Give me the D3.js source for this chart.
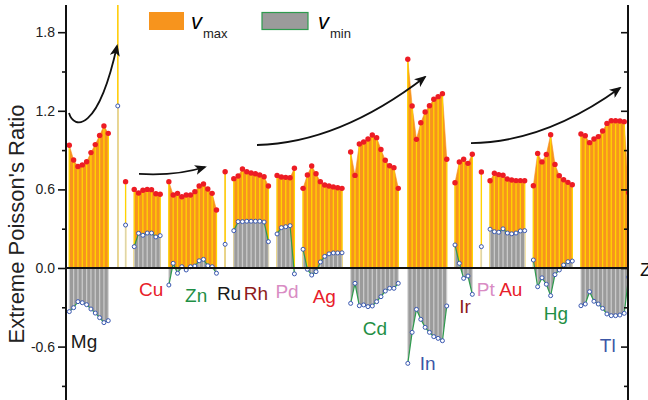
<!DOCTYPE html>
<html>
<head>
<meta charset="utf-8">
<script src="https://cdn.jsdelivr.net/npm/d3@7/dist/d3.min.js"></script>
<style>
  body { margin: 0; background: #fff; }
  text { font-family: "Liberation Sans", Arial, Helvetica, sans-serif; }
</style>
</head>
<body>
<div id="chart"></div>
<script>
// one entry per block of compounds, left to right ("" = unlabelled single compound)
var groupNames = ["Mg", "", "", "Cu", "Zn", "Ru", "Rh", "Pd", "Ag", "Cd", "In", "Ir", "Pt", "Au", "Hg", "Tl"];
// x position (compound index) of the first point of each block
var groupStart = [0, 11.2, 13, 15, 23, 36, 38, 48, 54, 65, 78.2, 89.1, 95.2, 97.2, 107.2, 118.2];

var vMax = [
  [0.937, 0.824, 0.775, 0.787, 0.811, 0.881, 0.942, 1.012, 1.084, 1.028],
  [2.3],
  [0.659],
  [0.600, 0.572, 0.593, 0.600, 0.598, 0.567, 0.563],
  [0.659, 0.557, 0.570, 0.544, 0.557, 0.557, 0.583, 0.626, 0.641, 0.603, 0.570, 0.443],
  [0.735],
  [0.682, 0.702, 0.756, 0.735, 0.725, 0.720, 0.710, 0.697, 0.626],
  [0.707, 0.695, 0.692, 0.689, 0.761],
  [0.608, 0.710, 0.779, 0.720, 0.659, 0.634, 0.626, 0.619, 0.613, 0.608],
  [0.885, 0.707, 0.947, 0.962, 0.985, 1.015, 0.995, 0.905, 0.822, 0.780, 0.766, 0.608],
  [1.593, 1.237, 0.982, 1.109, 1.191, 1.239, 1.288, 1.308, 1.331, 0.830],
  [0.651, 0.809, 0.830, 0.799, 0.868],
  [0.733],
  [0.666, 0.723, 0.713, 0.708, 0.679, 0.672, 0.667, 0.667, 0.666],
  [0.628, 0.875, 0.810, 0.866, 1.017, 0.791, 0.705, 0.674, 0.654, 0.636],
  [1.023, 1.010, 0.957, 0.985, 1.003, 1.046, 1.104, 1.124, 1.124, 1.122, 1.117, 0.575]
];

var vMin = [
  [-0.333, -0.303, -0.257, -0.265, -0.280, -0.313, -0.344, -0.379, -0.417, -0.402],
  [1.237],
  [0.328],
  [0.163, 0.265, 0.250, 0.267, 0.267, 0.237, 0.247],
  [-0.130, 0.036, -0.040, 0.010, -0.015, 0.010, 0.015, 0.055, 0.066, 0.017, 0.010, -0.040],
  [0.181],
  [0.285, 0.354, 0.354, 0.357, 0.357, 0.357, 0.357, 0.351, 0.201],
  [0.260, 0.308, 0.315, 0.323, -0.045],
  [0.143, -0.010, -0.054, -0.028, 0.046, 0.089, 0.108, 0.115, 0.115, 0.116],
  [-0.270, -0.117, -0.288, -0.282, -0.295, -0.290, -0.257, -0.219, -0.176, -0.155, -0.155, -0.117],
  [-0.728, -0.491, -0.316, -0.392, -0.453, -0.491, -0.524, -0.537, -0.555, -0.290],
  [0.176, 0.036, -0.079, -0.061, -0.201],
  [0.163],
  [0.296, 0.277, 0.273, 0.299, 0.267, 0.261, 0.267, 0.283, 0.285],
  [0.061, -0.143, -0.075, -0.124, -0.211, -0.051, -0.015, 0.023, 0.048, 0.053],
  [-0.288, -0.275, -0.181, -0.254, -0.275, -0.308, -0.351, -0.364, -0.364, -0.359, -0.346, -0.070]
];

var yMajor = [-0.6, 0.0, 0.6, 1.2, 1.8];
var yMinor = [-0.9, -0.3, 0.3, 0.9, 1.5];

// element labels, anchored in data units (compound index, ratio)
var labelNames = ["Mg", "Cu", "Zn", "Ru", "Rh", "Pd", "Ag", "Cd", "In", "Ir", "Pt", "Au", "Hg", "Tl"];
var labelX = [3.4, 18.9, 29.3, 36.9, 43.1, 50.3, 58.9, 70.6, 82.8, 91.4, 96.2, 102.0, 112.4, 124.4];
var labelY = [-0.61, -0.214, -0.26, -0.244, -0.244, -0.229, -0.267, -0.511, -0.779, -0.344, -0.214, -0.214, -0.397, -0.641];

// trend arrows: cubic curves in data units [x0,y0, c1x,c1y, c2x,c2y, x1,y1]
var arrows = [
  [-0.07, 1.183, 1.09, 1.053, 6.63, 1.038, 11.02, 1.695],
  [16.1, 0.718, 21.18, 0.708, 26.26, 0.718, 31.34, 0.771],
  [43.36, 0.939, 56.0, 0.949, 68.93, 1.122, 82.17, 1.458],
  [92.8, 0.954, 104.11, 0.957, 115.6, 1.097, 127.2, 1.374]
];

var labelColor = {
  Mg: "#1a1a1a", Cu: "#e8202a", Zn: "#1f8f45", Ru: "#1a1a1a", Rh: "#8e1c1c",
  Pd: "#d98cc4", Ag: "#e8202a", Cd: "#1f8f45", In: "#3b56a6", Ir: "#8e1c1c",
  Pt: "#d98cc4", Au: "#e8202a", Hg: "#1f8f45", Tl: "#3b56a6"
};

var width = 648, height = 400;
var plotL = 66, plotR = 628, plotT = 5, plotB = 400;

var svg = d3.select("#chart").append("svg")
    .attr("width", width)
    .attr("height", height);

var x = d3.scaleLinear().domain([0, 129]).range([69.3, 627.7]);
var y = d3.scaleLinear().domain([-1, 2]).range([399, 6]);

var defs = svg.append("defs");
defs.append("clipPath").attr("id", "plot")
  .append("rect")
    .attr("x", plotL).attr("y", plotT)
    .attr("width", plotR - plotL).attr("height", plotB - plotT);
defs.append("marker")
    .attr("id", "head")
    .attr("markerUnits", "userSpaceOnUse")
    .attr("viewBox", "0 0 12 10")
    .attr("refX", 10).attr("refY", 5)
    .attr("markerWidth", 12).attr("markerHeight", 10)
    .attr("orient", "auto")
  .append("path")
    .attr("d", "M0,0 L12,5 L0,10 L3,5 z")
    .attr("fill", "#111");

// points per block
var blocks = vMax.map(function(vals, g) {
  return vals.map(function(v, i) {
    return {x: groupStart[g] + i, hi: v, lo: vMin[g][i]};
  });
});
var allPts = d3.merge(blocks);

var plot = svg.append("g").attr("clip-path", "url(#plot)");

var areaMax = d3.area().x(d => x(d.x)).y0(y(0)).y1(d => y(d.hi));
var areaMin = d3.area().x(d => x(d.x)).y0(y(0)).y1(d => y(d.lo));
var lineMin = d3.line().x(d => x(d.x)).y(d => y(d.lo));

plot.selectAll(".amax").data(blocks).enter().append("path")
    .attr("d", areaMax)
    .attr("fill", "#f7941d")
    .attr("stroke", "#f7941d")
    .attr("stroke-width", 0.6);

plot.selectAll(".dmax").data(allPts).enter().append("line")
    .attr("x1", d => x(d.x)).attr("x2", d => x(d.x))
    .attr("y1", y(0)).attr("y2", d => y(d.hi))
    .attr("stroke", "#ffd500")
    .attr("stroke-width", 1.3);

plot.selectAll(".amin").data(blocks).enter().append("path")
    .attr("d", areaMin)
    .attr("fill", "#9b9b9b");

plot.selectAll(".dmin").data(allPts).enter().append("line")
    .attr("x1", d => x(d.x)).attr("x2", d => x(d.x))
    .attr("y1", y(0)).attr("y2", d => y(d.lo))
    .attr("stroke", "rgba(212,212,212,0.8)")
    .attr("stroke-width", 1.3);

plot.selectAll(".lmin").data(blocks).enter().append("path")
    .attr("d", lineMin)
    .attr("fill", "none")
    .attr("stroke", "#2e9b4e")
    .attr("stroke-width", 1.2);

plot.selectAll(".pmax").data(allPts).enter().append("circle")
    .attr("cx", d => x(d.x)).attr("cy", d => y(d.hi))
    .attr("r", 2.7)
    .attr("fill", "#ed1c24");

plot.selectAll(".pmin").data(allPts).enter().append("circle")
    .attr("cx", d => x(d.x)).attr("cy", d => y(d.lo))
    .attr("r", 2)
    .attr("fill", "#fff")
    .attr("stroke", "#3856b0")
    .attr("stroke-width", 1);

// zero line
svg.append("line")
    .attr("x1", plotL).attr("x2", plotR)
    .attr("y1", y(0)).attr("y2", y(0))
    .attr("stroke", "#111")
    .attr("stroke-width", 2);

// arrows
svg.selectAll(".arrow").data(arrows).enter().append("path")
    .attr("d", a => "M" + x(a[0]) + "," + y(a[1]) +
      " C" + x(a[2]) + "," + y(a[3]) + " " + x(a[4]) + "," + y(a[5]) + " " + x(a[6]) + "," + y(a[7]))
    .attr("fill", "none")
    .attr("stroke", "#111")
    .attr("stroke-width", 1.8)
    .attr("marker-end", "url(#head)");

// axes
var yAxis = svg.append("g")
    .attr("transform", "translate(" + plotL + ",0)")
    .call(d3.axisLeft(y).tickValues(yMajor).tickSize(8).tickSizeOuter(0)
      .tickFormat(d => d.toFixed(1)));
svg.append("g")
    .attr("transform", "translate(" + plotL + ",0)")
    .call(d3.axisLeft(y).tickValues(yMinor).tickSize(4).tickSizeOuter(0).tickFormat(""))
    .select(".domain").remove();
svg.append("g")
    .attr("transform", "translate(" + plotR + ",0)")
    .call(d3.axisRight(y).tickValues(yMajor).tickSize(-7).tickSizeOuter(0).tickFormat(""));
svg.append("g")
    .attr("transform", "translate(" + plotR + ",0)")
    .call(d3.axisRight(y).tickValues(yMinor).tickSize(-4).tickSizeOuter(0).tickFormat(""))
    .select(".domain").remove();

svg.selectAll(".domain")
    .attr("d", "M0," + plotT + "V" + plotB)
    .attr("stroke", "#111")
    .attr("stroke-width", 2);
svg.selectAll(".tick line").attr("stroke", "#111").attr("stroke-width", 1.6);
yAxis.selectAll("text")
    .attr("font-size", 14)
    .attr("fill", "#222")
    .attr("font-family", "Liberation Sans, Arial, sans-serif");

svg.append("text")
    .attr("transform", "translate(24,224) rotate(-90)")
    .attr("text-anchor", "middle")
    .attr("font-size", 22)
    .attr("fill", "#222")
    .text("Extreme Poisson's Ratio");

svg.append("text")
    .attr("x", 640).attr("y", y(0) + 8)
    .attr("font-size", 19)
    .attr("fill", "#111")
    .text("Z");

// element labels
svg.selectAll(".elab").data(labelNames).enter().append("text")
    .attr("x", (d, i) => x(labelX[i]))
    .attr("y", (d, i) => y(labelY[i]))
    .attr("text-anchor", "middle")
    .attr("font-size", 19)
    .attr("fill", d => labelColor[d])
    .text(d => d);

// legend
var leg = svg.append("g");
leg.append("rect").attr("x", 149).attr("y", 12).attr("width", 35).attr("height", 18)
    .attr("fill", "#f7941d");
leg.append("text").attr("x", 191).attr("y", 29).attr("font-size", 22)
    .attr("font-style", "italic").text("v");
leg.append("text").attr("x", 203).attr("y", 38).attr("font-size", 13).attr("fill", "#222").text("max");
leg.append("rect").attr("x", 262).attr("y", 12.5).attr("width", 46).attr("height", 17)
    .attr("fill", "#9b9b9b").attr("stroke", "#2e9b4e").attr("stroke-width", 1.2);
leg.append("text").attr("x", 318).attr("y", 29).attr("font-size", 22)
    .attr("font-style", "italic").text("v");
leg.append("text").attr("x", 330).attr("y", 38).attr("font-size", 13).attr("fill", "#222").text("min");
</script>
</body>
</html>
